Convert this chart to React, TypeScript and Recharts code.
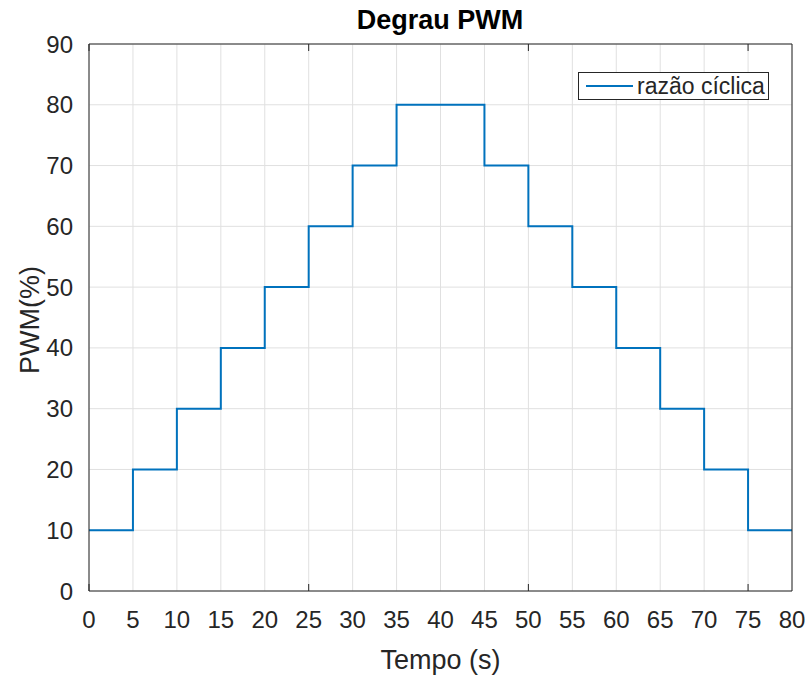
import React from 'react';
import { LineChart, Line, XAxis, YAxis, CartesianGrid } from 'recharts';

const tempo = [0, 5, 10, 15, 20, 25, 30, 35, 40, 45, 50, 55, 60, 65, 70, 75, 80];
const pwm = [10, 20, 30, 40, 50, 60, 70, 80, 80, 70, 60, 50, 40, 30, 20, 10, 10];
const xTicks = [0, 5, 10, 15, 20, 25, 30, 35, 40, 45, 50, 55, 60, 65, 70, 75, 80];
const yTicks = [0, 10, 20, 30, 40, 50, 60, 70, 80, 90];

const data = tempo.map((t, i) => ({ t, pwm: pwm[i] }));

const INK = '#262626';
const FONT = '"Liberation Sans", Arial, sans-serif';
const noLabel = () => <g />;

export default function App() {
  return (
    <div style={{ position: 'absolute', left: 0, top: 0, width: 810, height: 675, background: '#fff', fontFamily: FONT }}>
      <LineChart width={810} height={675} data={data} margin={{ top: 44, right: 18, left: 0, bottom: 0 }} style={{ fontFamily: FONT }}>
        <CartesianGrid xAxisId="x" yAxisId="y" stroke="#e0e0e0" strokeWidth={1} verticalValues={xTicks} horizontalValues={yTicks} />
        <XAxis
          xAxisId="x"
          dataKey="t"
          type="number"
          domain={[0, 80]}
          ticks={xTicks}
          height={84}
          interval={0}
          tickLine={false}
          axisLine={{ stroke: INK }}
          tickMargin={14}
          tick={{ fill: INK, fontSize: 24, fontFamily: FONT }}
          label={{ value: 'Tempo (s)', position: 'insideBottom', offset: 6, fill: INK, fontSize: 27, fontFamily: FONT }}
        />
        <XAxis xAxisId="xb" type="number" domain={[0, 80]} ticks={xTicks} interval={0} orientation="bottom" mirror axisLine={false} tickLine={{ stroke: INK }} tickSize={7} tick={noLabel} />
        <XAxis xAxisId="xt" type="number" domain={[0, 80]} ticks={xTicks} interval={0} orientation="top" mirror axisLine={{ stroke: INK }} tickLine={{ stroke: INK }} tickSize={7} tick={noLabel} />
        <YAxis
          yAxisId="y"
          type="number"
          domain={[0, 90]}
          ticks={yTicks}
          width={89}
          interval={0}
          tickLine={false}
          axisLine={{ stroke: INK }}
          tickMargin={10}
          tick={{ fill: INK, fontSize: 24, fontFamily: FONT }}
        />
        <YAxis yAxisId="yl" type="number" domain={[0, 90]} ticks={yTicks} interval={0} orientation="left" mirror axisLine={false} tickLine={{ stroke: INK }} tickSize={7} tick={noLabel} />
        <YAxis yAxisId="yr" type="number" domain={[0, 90]} ticks={yTicks} interval={0} orientation="right" mirror axisLine={{ stroke: INK }} tickLine={{ stroke: INK }} tickSize={7} tick={noLabel} />
        <Line
          xAxisId="x"
          yAxisId="y"
          type="stepAfter"
          dataKey="pwm"
          stroke="#0072BD"
          strokeWidth={2}
          dot={false}
          isAnimationActive={false}
        />
      </LineChart>
      <div style={{ position: 'absolute', left: 0, width: 880, top: 5, textAlign: 'center', fontSize: 27, fontWeight: 'bold', color: '#000' }}>
        Degrau PWM
      </div>
      <div
        style={{
          position: 'absolute',
          left: 30,
          top: 320,
          transform: 'translate(-50%, -50%) rotate(-90deg)',
          fontSize: 27,
          color: INK,
          whiteSpace: 'nowrap',
        }}
      >
        PWM(%)
      </div>
      <div
        style={{
          position: 'absolute',
          left: 578,
          top: 72,
          width: 191,
          height: 28,
          boxSizing: 'border-box',
          border: `1px solid ${INK}`,
          background: '#fff',
          display: 'flex',
          alignItems: 'center',
          paddingLeft: 7,
          fontSize: 23,
          color: INK,
          whiteSpace: 'nowrap',
        }}
      >
        <svg width={47} height={10} style={{ marginRight: 4, flex: 'none' }}>
          <line x1={0} y1={5} x2={47} y2={5} stroke="#0072BD" strokeWidth={2} />
        </svg>
        razão cíclica
      </div>
    </div>
  );
}
